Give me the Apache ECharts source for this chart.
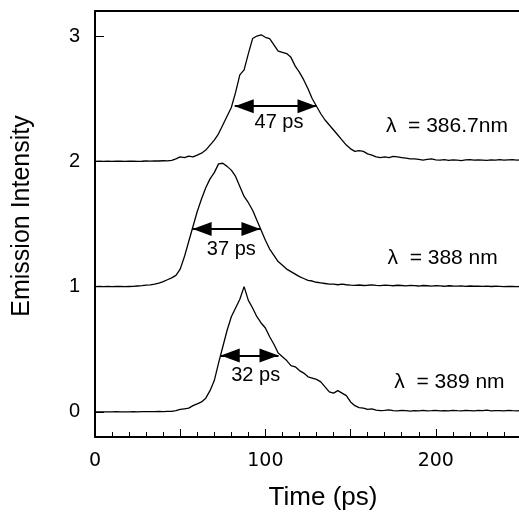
<!DOCTYPE html>
<html>
<head>
<meta charset="utf-8">
<script src="https://cdn.jsdelivr.net/npm/echarts@6/dist/echarts.min.js"></script>
<style>html,body{margin:0;padding:0;background:#fff;overflow:hidden;width:519px;height:516px;}#c{width:524px;height:516px;}</style>
</head>
<body>
<div id="c"></div>
<script>
// sampling times (ps)
const time = [0,2.5,5,7.5,10,12.5,15,17.5,20,22.5,25,27.5,30,32.5,35,37.5,40,42.5,45,47.5,
50,52.5,55,57.5,60,62.5,65,67.5,70,72.5,75,77.5,80,82.5,85,87.5,90,92.5,95,97.5,
100,102.5,105,107.5,110,112.5,115,117.5,120,122.5,125,127.5,130,132.5,135,137.5,140,142.5,145,147.5,
150,152.5,155,157.5,160,162.5,165,167.5,170,172.5,175,177.5,180,182.5,185,187.5,190,192.5,195,197.5,
200,202.5,205,207.5,210,212.5,215,217.5,220,222.5,225,227.5,230,232.5,235,237.5,240,242.5,245,247.5,250];

// normalized emission traces
const trace3867 = [0.000,0.002,0.000,0.001,0.000,0.002,0.001,0.000,0.002,0.001,0.000,0.001,0.003,0.002,0.004,0.003,0.005,0.004,0.008,0.020,
0.035,0.030,0.042,0.036,0.050,0.065,0.090,0.130,0.170,0.220,0.290,0.360,0.430,0.550,0.690,0.730,0.860,0.980,1.000,1.010,
0.990,0.980,0.930,0.880,0.870,0.860,0.830,0.760,0.710,0.650,0.580,0.500,0.440,0.380,0.330,0.290,0.250,0.210,0.170,0.130,
0.100,0.080,0.085,0.080,0.060,0.050,0.035,0.030,0.035,0.030,0.040,0.035,0.030,0.025,0.020,0.020,0.015,0.010,0.015,0.020,
0.012,0.010,0.014,0.008,0.012,0.010,0.006,0.011,0.013,0.009,0.012,0.010,0.007,0.012,0.010,0.014,0.009,0.011,0.013,0.010,0.012];

const trace388 = [0.000,0.001,0.000,0.002,0.000,0.001,0.002,0.000,0.001,0.002,0.005,0.008,0.012,0.014,0.020,0.028,0.040,0.055,0.070,0.090,
0.140,0.240,0.360,0.480,0.600,0.700,0.790,0.860,0.910,0.980,0.985,0.960,0.930,0.880,0.800,0.720,0.670,0.610,0.530,0.450,
0.370,0.300,0.250,0.200,0.170,0.140,0.120,0.100,0.080,0.065,0.050,0.045,0.035,0.030,0.025,0.020,0.020,0.015,0.020,0.015,
0.012,0.010,0.013,0.009,0.011,0.014,0.010,0.008,0.012,0.010,0.007,0.011,0.009,0.006,0.010,0.008,0.005,0.009,0.007,0.004,
0.008,0.006,0.003,0.007,0.005,0.004,0.006,0.002,0.005,0.003,0.004,0.002,0.004,0.001,0.003,0.002,0.000,0.002,0.001,0.000,0.001];

const trace389 = [0.000,0.000,0.001,0.000,0.000,0.002,0.001,0.000,0.001,0.002,0.001,0.002,0.003,0.002,0.003,0.004,0.003,0.004,0.005,0.010,
0.020,0.025,0.030,0.050,0.065,0.080,0.110,0.170,0.250,0.390,0.520,0.650,0.760,0.830,0.900,1.000,0.890,0.830,0.760,0.710,
0.670,0.600,0.540,0.470,0.440,0.410,0.370,0.360,0.330,0.310,0.280,0.270,0.260,0.240,0.200,0.160,0.150,0.170,0.150,0.130,
0.080,0.050,0.035,0.030,0.020,0.025,0.015,0.010,0.012,0.016,0.010,0.008,0.012,0.010,0.007,0.011,0.009,0.012,0.008,0.010,
0.013,0.009,0.011,0.008,0.012,0.010,0.009,0.013,0.011,0.008,0.012,0.010,0.014,0.009,0.011,0.010,0.008,0.012,0.010,0.009,0.011];

const traces = [trace389, trace388, trace3867];
const offsets = [0, 1, 2];

// FWHM arrows (ps) and their level (normalized)
const fwhmStart = [73.8, 57.3, 82];
const fwhmEnd = [107.7, 97.1, 130];
const fwhmLevel = [0.45, 0.46, 0.44];
const fwhmText = ['32 ps', '37 ps', '47 ps'];
const fwhmTextX = [94.3, 80, 108];
const fwhmTextY = [0.29, 1.30, 2.31];

// wavelength labels
const lambdaText = ['λ  = 389 nm', 'λ  = 388 nm', 'λ  = 386.7nm'];
const lambdaX = [208, 204, 206.5];
const lambdaY = [0.24, 1.23, 2.28];

const yTicks = [0, 1, 2, 3];

const series = traces.map((vals, k) => ({
  type: 'line',
  xAxisIndex: 0,
  showSymbol: false,
  silent: true,
  lineStyle: { color: '#000', width: 1.3 },
  data: time.map((t, i) => [t, vals[i] + offsets[k]]),
  markLine: {
    silent: true,
    symbol: ['triangle', 'triangle'],
    symbolSize: [14, 19],
    symbolOffset: [[0, 9.5], [0, 9.5]],
    label: { show: false },
    lineStyle: { color: '#000', width: 2, type: 'solid' },
    itemStyle: { color: '#000' },
    data: [[{ coord: [fwhmStart[k], fwhmLevel[k] + offsets[k]] }, { coord: [fwhmEnd[k], fwhmLevel[k] + offsets[k]] }]]
  }
}));

series.push({
  type: 'scatter',
  xAxisIndex: 0,
  symbolSize: 0,
  silent: true,
  itemStyle: { opacity: 1, color: '#000' },
  label: { show: true, position: 'inside', formatter: p => p.data.name, color: '#000', textBorderWidth: 0, fontSize: 21, fontFamily: 'Liberation Sans, Arial, sans-serif' },
  data: fwhmText.map((s, i) => ({ name: s, value: [fwhmTextX[i], fwhmTextY[i]], label: { fontSize: 20 } }))
    .concat(lambdaText.map((s, i) => ({ name: s, value: [lambdaX[i], lambdaY[i]] })))
});

const chart = echarts.init(document.getElementById('c'));
chart.setOption({
  animation: false,
  backgroundColor: '#fff',
  grid: { left: 95, right: 0, top: 11, bottom: 78 },
  xAxis: [{
    type: 'value', min: 0, max: 250, interval: 50,
    axisLine: { show: true, onZero: false, lineStyle: { color: '#000', width: 2 } },
    axisTick: { show: true, inside: true, length: 8, lineStyle: { color: '#000', width: 1 } },
    minorTick: { show: true, splitNumber: 5, length: 5, lineStyle: { color: '#000', width: 1 } },
    splitLine: { show: false },
    axisLabel: { formatter: v => (v % 100 === 0 ? String(v) : ''), color: '#000', fontSize: 19, fontFamily: 'DejaVu Sans, sans-serif', margin: 15 },
    name: 'Time (ps)', nameLocation: 'middle', nameGap: 48,
    nameTextStyle: { color: '#000', fontSize: 26, fontFamily: 'Liberation Sans, Arial, sans-serif', padding: [0, 0, 0, 30] }
  }, {
    type: 'value', min: 0, max: 250, position: 'top',
    axisLine: { show: true, onZero: false, lineStyle: { color: '#000', width: 2 } },
    axisTick: { show: false }, axisLabel: { show: false }, splitLine: { show: false }
  }],
  yAxis: {
    type: 'value', min: -0.2, max: 3.2,
    axisLine: { show: true, onZero: false, lineStyle: { color: '#000', width: 2 } },
    axisTick: { show: true, inside: true, length: 9, customValues: yTicks, lineStyle: { color: '#000', width: 1 } },
    axisLabel: { customValues: yTicks, color: '#000', fontSize: 20, fontFamily: 'Liberation Sans, Arial, sans-serif', margin: 15 },
    splitLine: { show: false },
    name: 'Emission Intensity', nameLocation: 'middle', nameGap: 60, nameRotate: 90,
    nameTextStyle: { color: '#000', fontSize: 25, fontFamily: 'Liberation Sans, Arial, sans-serif', padding: [0, 0, 0, 16] }
  },
  series: series
});
</script>
</body>
</html>
